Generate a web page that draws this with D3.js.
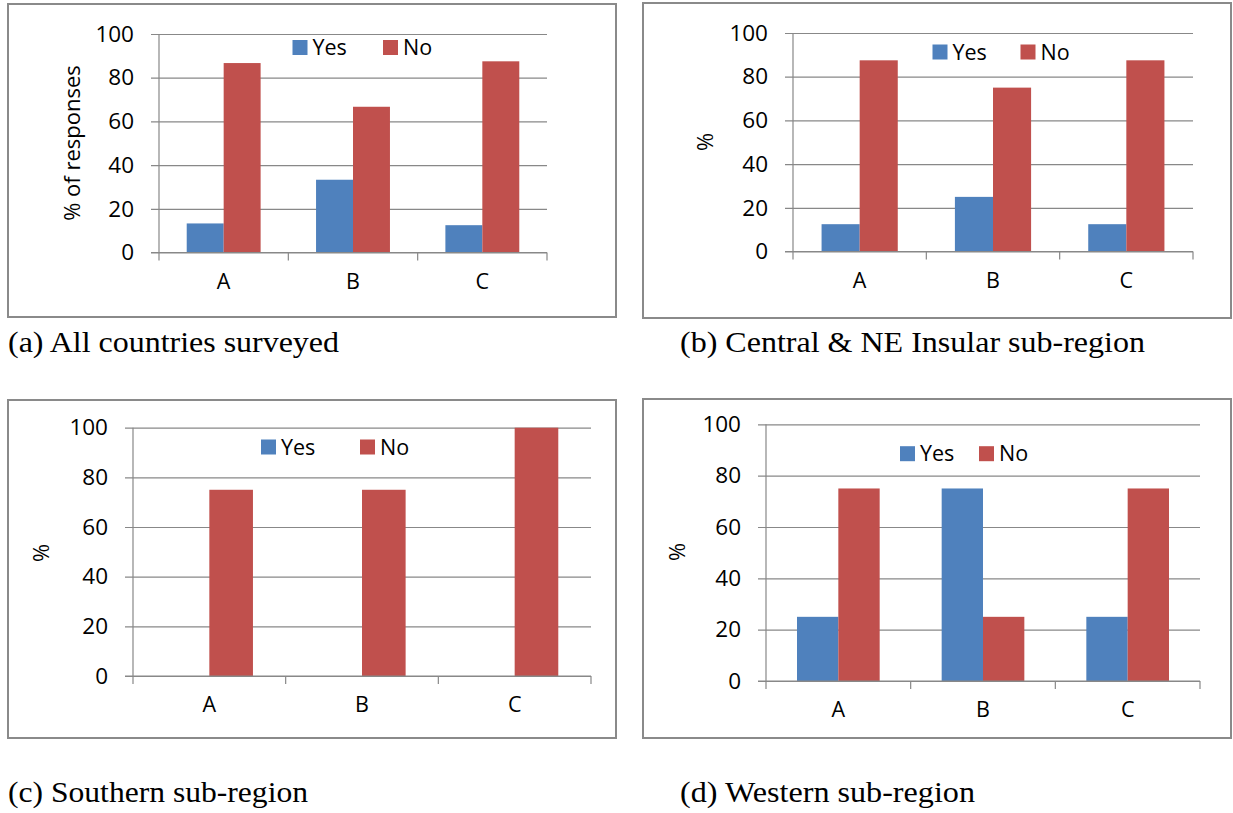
<!DOCTYPE html>
<html>
<head>
<meta charset="utf-8">
<script src="https://cdn.jsdelivr.net/npm/d3@7"></script>
<style>
  body { margin: 0; background: #fff; }
  svg text { font-family: "Open Sans", sans-serif; fill: #000; }
  svg text.caption { font-family: "Liberation Serif", "Times New Roman", Times, serif; }
</style>
</head>
<body>
<svg id="chart" width="1233" height="813"></svg>
<script>
// chart data
const categories = ["A", "B", "C"];
const seriesNames = ["Yes", "No"];
const yTicks = [0, 20, 40, 60, 80, 100];

const yesAll = [13.3, 33.3, 12.5];
const noAll = [86.7, 66.7, 87.5];
const yesCentral = [12.5, 25, 12.5];
const noCentral = [87.5, 75, 87.5];
const yesSouthern = [0, 0, 0];
const noSouthern = [75, 75, 100];
const yesWestern = [25, 75, 25];
const noWestern = [75, 25, 75];

const captions = [
    "(a) All countries surveyed",
    "(b) Central & NE Insular sub-region",
    "(c) Southern sub-region",
    "(d) Western sub-region"
];
const yTitles = ["% of responses", "%", "%", "%"];

const colors = { Yes: "#4f81bd", No: "#c0504d" };

// page layout of the four panels
const layout = [
    { frame: [8, 4, 616, 317], plot: [159, 547, 34, 252.5], title: [72, 143],
      legend: [292.5, 383, 47.5], caption: [8, 352, 331] },
    { frame: [643, 3, 1231, 318], plot: [793, 1193, 33, 251.5], title: [705, 142],
      legend: [932.5, 1020.5, 52], caption: [680, 352, 465] },
    { frame: [8, 400, 616, 738], plot: [133, 591, 427.7, 676], title: [41, 553],
      legend: [261, 360, 447], caption: [8, 802, 300] },
    { frame: [643, 399, 1231, 738], plot: [766, 1200, 424.3, 681], title: [677, 552],
      legend: [900, 979, 453.7], caption: [680, 802, 295] }
];

const panelData = [
    [yesAll, noAll],
    [yesCentral, noCentral],
    [yesSouthern, noSouthern],
    [yesWestern, noWestern]
];

const svg = d3.select("#chart");

function drawPanel(i) {
    const L = layout[i];
    const [yesVals, noVals] = panelData[i];
    const [left, right, top, bottom] = L.plot;
    const g = svg.append("g");

    // frame
    g.append("rect")
        .attr("x", L.frame[0]).attr("y", L.frame[1])
        .attr("width", L.frame[2] - L.frame[0])
        .attr("height", L.frame[3] - L.frame[1])
        .attr("fill", "none")
        .attr("stroke", "#8a8a8a")
        .attr("stroke-width", 2);

    const x = d3.scaleBand().domain(categories).range([left, right]);
    const xSub = d3.scaleBand().domain(seriesNames)
        .range([0, x.bandwidth()])
        .paddingInner(0).paddingOuter(0.75);
    const y = d3.scaleLinear().domain([0, 100]).range([bottom, top]);

    // gridlines + tick labels
    g.append("g")
        .attr("transform", `translate(${left - 8},0)`)
        .call(d3.axisLeft(y)
            .tickValues(yTicks)
            .tickSize(-(right - left + 8))
            .tickPadding(17))
        .call(a => a.select(".domain").remove())
        .call(a => a.selectAll("line").attr("stroke", "#888").attr("stroke-width", 1.2))
        .call(a => a.selectAll("text").style("font-size", "22.5px").attr("fill", "#000"));

    // y axis line
    g.append("line")
        .attr("x1", left).attr("x2", left)
        .attr("y1", top).attr("y2", bottom + 8)
        .attr("stroke", "#888").attr("stroke-width", 1.2);

    // bars
    const rows = categories.map((c, k) => ({ cat: c, Yes: yesVals[k], No: noVals[k] }));
    seriesNames.forEach(s => {
        g.selectAll(null)
            .data(rows)
            .enter()
            .append("rect")
            .attr("x", d => x(d.cat) + xSub(s))
            .attr("width", xSub.bandwidth())
            .attr("y", d => y(d[s]))
            .attr("height", d => y(0) - y(d[s]))
            .attr("fill", colors[s]);
    });

    // x axis baseline, edge ticks and labels
    g.append("line")
        .attr("x1", left - 8).attr("x2", right)
        .attr("y1", bottom).attr("y2", bottom)
        .attr("stroke", "#888").attr("stroke-width", 1.2);

    const edges = categories.map(c => x(c) + x.bandwidth());
    g.selectAll(null)
        .data(edges)
        .enter()
        .append("line")
        .attr("x1", d => d).attr("x2", d => d)
        .attr("y1", bottom).attr("y2", bottom + 8)
        .attr("stroke", "#888").attr("stroke-width", 1.2);

    g.append("g")
        .attr("transform", `translate(0,${bottom})`)
        .call(d3.axisBottom(x).tickSize(0).tickPadding(21))
        .call(a => a.select(".domain").remove())
        .call(a => a.selectAll("text").style("font-size", "21.5px").attr("fill", "#000"));

    // y title
    g.append("text")
        .attr("transform", `translate(${L.title[0]},${L.title[1]}) rotate(-90)`)
        .attr("text-anchor", "middle")
        .attr("dy", "0.35em")
        .style("font-size", "22px")
        .text(yTitles[i]);

    // legend
    const lg = g.append("g");
    seriesNames.forEach((s, k) => {
        const lx = L.legend[k];
        lg.append("rect")
            .attr("x", lx).attr("y", L.legend[2] - 7.5)
            .attr("width", 15).attr("height", 15)
            .attr("fill", colors[s]);
        lg.append("text")
            .attr("x", lx + 20).attr("y", L.legend[2])
            .attr("dy", "0.36em")
            .style("font-size", "21.5px")
            .text(s);
    });

    // caption
    svg.append("text")
        .attr("class", "caption")
        .attr("x", L.caption[0]).attr("y", L.caption[1])
        .attr("textLength", L.caption[2])
        .attr("lengthAdjust", "spacingAndGlyphs")
        .style("font-size", "30px")
        .text(captions[i]);
}

layout.forEach((d, i) => drawPanel(i));
</script>
</body>
</html>
